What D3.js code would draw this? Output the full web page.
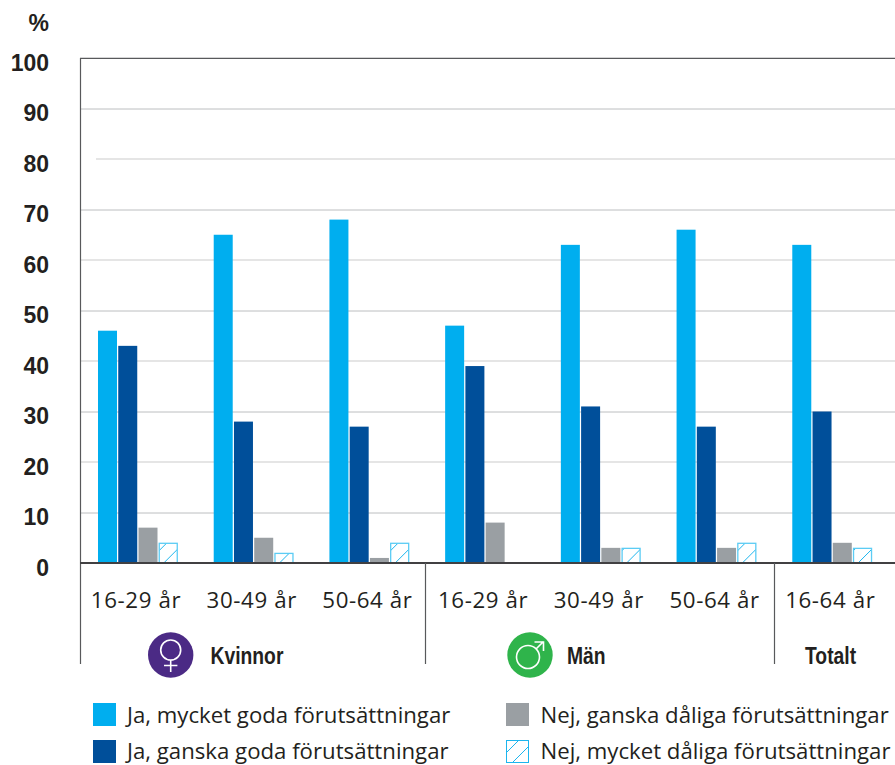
<!DOCTYPE html>
<html><head><meta charset="utf-8">
<script src="https://cdn.jsdelivr.net/npm/d3@7"></script>
<style>html,body{margin:0;padding:0;background:#fff}svg{display:block}</style></head>
<body><svg id="c" width="895" height="765"></svg>
<script>
const groups = ["K1","K2","K3","M1","M2","M3","T"];
const groupLabels = ["16-29 år","30-49 år","50-64 år","16-29 år","30-49 år","50-64 år","16-64 år"];
const seriesNames = ["Ja, mycket goda förutsättningar","Ja, ganska goda förutsättningar","Nej, ganska dåliga förutsättningar","Nej, mycket dåliga förutsättningar"];
const mycketGoda = [46,65,68,47,63,66,63];
const ganskaGoda = [43,28,27,39,31,27,30];
const ganskaDaliga = [7,5,1,8,3,3,4];
const mycketDaliga = [4,2,4,0,3,4,3];
const yTicks = [0,10,20,30,40,50,60,70,80,90,100];
const seriesValues = [mycketGoda,ganskaGoda,ganskaDaliga,mycketDaliga];
const sectionLabels = ["Kvinnor","Män","Totalt"];

const svg = d3.select("#c");
const y = d3.scaleLinear().domain([0,100]).range([563,58]);
const x0 = d3.scaleBand().domain(groups).range([80,890]);
const x1 = d3.scaleBand().domain(d3.range(4)).range([18,99]);
const sans = "'Open Sans','Noto Sans',sans-serif";
const bold = "'Liberation Sans',Arial,sans-serif";
const ink = "#231f20";
const hatchColor = "#1cb5ee";

const defs = svg.append("defs");
function hatch(id,px,py,period){
  const p = defs.append("pattern").attr("id",id).attr("patternUnits","userSpaceOnUse")
    .attr("width",period).attr("height",period).attr("x",px).attr("y",py);
  p.append("path").attr("d",`M-2,${period+2}L${period+2},-2`).attr("stroke",hatchColor).attr("stroke-width",1);
}

// grid
const grid = svg.append("g");
yTicks.filter(d=>d>0&&d<100).forEach(d=>{
  const light = d%20===0;
  grid.append("line").attr("x1",d===80?96:80).attr("x2",895)
    .attr("y1",y(d)+(light?0:.5)).attr("y2",y(d)+(light?0:.5))
    .attr("stroke",light?"#dcdcdc":"#bcbec0").attr("stroke-width",light?1.6:1);
});

// bars
const colors = ["#00aeef","#004f9a","#9a9fa3"];
groups.forEach((g,i)=>{
  seriesValues.forEach((vals,s)=>{
    const v = vals[i];
    if(!v) return;
    const bx = x0(g)+x1(s), by = y(v), bw = 19, bh = y(0)-y(v);
    if(s<3){
      svg.append("rect").attr("x",bx).attr("y",by).attr("width",bw).attr("height",bh).attr("fill",colors[s]);
    } else {
      hatch("h"+i,bx+5,y(0),17);
      svg.append("rect").attr("x",bx+.5).attr("y",by+.5).attr("width",bw-1).attr("height",bh-.5)
        .attr("fill","url(#h"+i+")").attr("stroke","#5cccf4").attr("stroke-width",1.3);
    }
  });
});

// axes frame
const axisColor = "#58595b";
const frame = svg.append("g").attr("stroke",axisColor).attr("fill","none");
frame.append("path").attr("d",`M895,${y(100)+.3}H80.5V664`).attr("stroke-width",1.2);
frame.append("path").attr("d",`M80,${y(0)}H895`).attr("stroke","#414042").attr("stroke-width",1.8);
[425.5,774.5].forEach(xv=>frame.append("line").attr("x1",xv).attr("x2",xv).attr("y1",y(0)).attr("y2",664).attr("stroke-width",1.2));

// y tick labels
const yAxis = d3.axisLeft(y).tickValues(yTicks).tickSize(0).tickPadding(0);
const ga = svg.append("g").attr("transform","translate(52,0)").call(yAxis);
ga.select(".domain").remove();
ga.selectAll("text").attr("font-family",bold).attr("font-weight",700)
  .attr("font-size",23).attr("fill",ink).attr("dy","0.32em").attr("x",-3);
ga.selectAll("g.tick").attr("transform",d=>`translate(0,${y(d)+5.5})`);
svg.append("text").attr("x",49).attr("y",31).attr("text-anchor","end")
  .attr("font-family",bold).attr("font-weight",700).attr("font-size",23).attr("fill",ink).text("%");

// category labels
groups.forEach((g,i)=>{
  svg.append("text").attr("x",x0(g)+18+38).attr("y",608).attr("text-anchor","middle")
    .attr("font-family",sans).attr("font-size",22.3).attr("letter-spacing",0.6).attr("fill",ink).text(groupLabels[i]);
});

// section labels
const secX = [210.5,567,805];
sectionLabels.forEach((t,i)=>{
  svg.append("text").attr("transform",`translate(${secX[i]},664) scale(0.84,1)`).attr("font-family",bold)
    .attr("font-weight",700).attr("font-size",23).attr("fill",ink).text(t);
});

// female icon
svg.append("circle").attr("cx",170.7).attr("cy",655).attr("r",22.7).attr("fill","#4b2a85");
const fi = svg.append("g").attr("stroke","#fff").attr("fill","none").attr("stroke-width",1.6);
fi.append("circle").attr("cx",170.7).attr("cy",650).attr("r",10);
fi.append("path").attr("d","M170.7,660V672M164,665.5H177.4");
// male icon
svg.append("circle").attr("cx",530).attr("cy",655).attr("r",22.7).attr("fill","#2fb44b");
const mi = svg.append("g").attr("stroke","#fff").attr("fill","none").attr("stroke-width",1.6);
mi.append("circle").attr("cx",528).attr("cy",657).attr("r",11.5);
mi.append("path").attr("d","M536,649L543.5,641.5M534.5,642H543.5V651");

// legend
const legX = [93,506], legY = [703,740], legText = [723,758.5];
seriesNames.forEach((n,i)=>{
  const col = i<2?0:1, row = i%2;
  const lx = legX[col], ly = legY[row];
  if(i<3){
    svg.append("rect").attr("x",lx).attr("y",ly).attr("width",23).attr("height",23).attr("fill",colors[i]);
  } else {
    hatch("hl",lx+6,ly+23,16);
    svg.append("rect").attr("x",lx+.5).attr("y",ly+.5).attr("width",22).attr("height",22)
      .attr("fill","url(#hl)").attr("stroke",hatchColor).attr("stroke-width",1);
  }
  svg.append("text").attr("x",col?540.5:127).attr("y",legText[row]).attr("font-family",sans)
    .attr("font-size",22.2).attr("fill",ink).text(n);
});
</script></body></html>
